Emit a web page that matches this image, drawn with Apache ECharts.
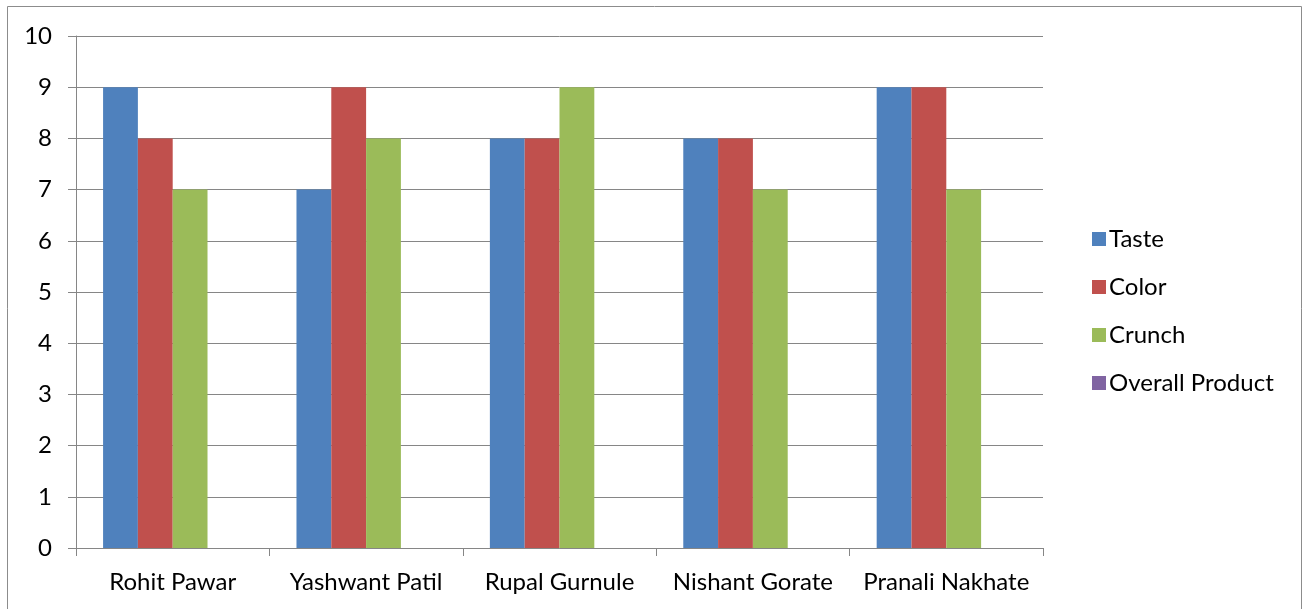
<!DOCTYPE html>
<html><head><meta charset="utf-8">
<script src="https://cdn.jsdelivr.net/npm/echarts@6/dist/echarts.min.js"></script>
<style>html,body{margin:0;padding:0;background:#fff}#c{width:1304px;height:609px}</style>
</head><body><div id="c"></div>
<script>
const categories = ['Rohit Pawar','Yashwant Patil','Rupal Gurnule','Nishant Gorate','Pranali Nakhate'];
const taste = [9,7,8,8,9];
const color = [8,9,8,8,9];
const crunch = [7,8,9,7,7];
const overall = [null,null,null,null,null];
const yTicks = {min:0,max:10,interval:1};

const chart = echarts.init(document.getElementById('c'));
const font = 'Lato, "Open Sans", sans-serif';
const gray = '#868686';
const mk = (name, data, c) => ({name, type:'bar', data, itemStyle:{color:c}, barGap:'0%', barCategoryGap:'28%'});
chart.setOption({
  animation:false,
  textStyle:{fontFamily:font},
  graphic:[{type:'rect', shape:{x:7.5,y:6.5,width:1294,height:610}, style:{fill:'none',stroke:'#8c8c8c',lineWidth:1}, silent:true}],
  grid:{left:76,right:261,top:36,bottom:61,containLabel:false},
  legend:{orient:'vertical',left:1087,top:222,itemWidth:14,itemHeight:14,itemGap:24,icon:'rect',
    textStyle:{fontFamily:font,fontSize:24,color:'#000',padding:[0,0,0,-2]}},
  xAxis:{type:'category',data:categories,boundaryGap:true,
    axisLine:{lineStyle:{color:gray,width:1}},
    axisTick:{show:true,length:8,interval:0,lineStyle:{color:gray}},
    axisLabel:{fontFamily:font,fontSize:24,color:'#000',margin:22,interval:0}},
  yAxis:{type:'value',min:yTicks.min,max:yTicks.max,interval:yTicks.interval,
    axisLine:{show:true,lineStyle:{color:gray,width:1}},
    axisTick:{show:true,length:8,lineStyle:{color:gray}},
    splitLine:{lineStyle:{color:gray,width:1}},
    axisLabel:{fontFamily:font,fontSize:24,color:'#000',margin:24}},
  series:[mk('Taste',taste,'#4F81BD'),mk('Color',color,'#C0504D'),mk('Crunch',crunch,'#9BBB59'),mk('Overall Product',overall,'#8064A2')]
});
</script></body></html>
